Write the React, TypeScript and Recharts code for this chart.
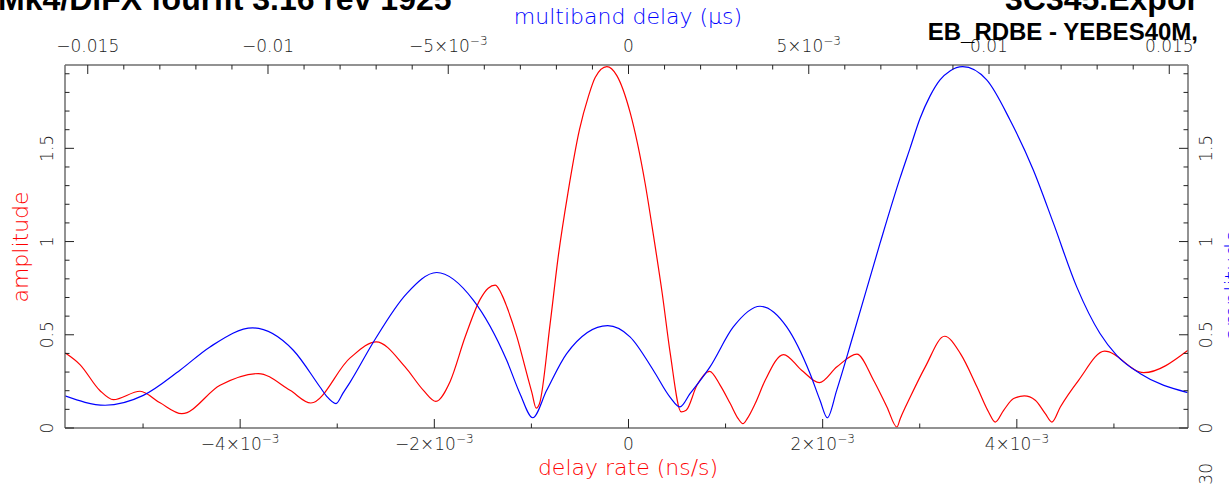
import React from 'react';
import { ComposedChart, Line, XAxis, YAxis } from 'recharts';

// red: amplitude vs delay rate (ns/s), bottom/left axes
const rateX = [
  -0.005804, -0.005650, -0.005443, -0.005306, -0.005031, -0.004825, -0.004601, -0.004207,
  -0.003812, -0.003486, -0.003272, -0.002867, -0.002599, -0.002301, -0.002112, -0.001984,
  -0.001837, -0.001682, -0.001528, -0.001445, -0.001373, -0.001300, -0.001253, -0.00115,
  -0.001047, -0.000995, -0.000951, -0.000917, -0.000807, -0.000721, -0.000624, -0.000505,
  -0.000412, -0.000343, -0.000223, -0.00012, 0.000018, 0.000172, 0.000258, 0.000348,
  0.00043, 0.000543, 0.000594, 0.000705, 0.000835, 0.000945, 0.001048, 0.00113,
  0.001179, 0.001223, 0.001305, 0.001408, 0.001597, 0.001783, 0.001965, 0.002147,
  0.002353, 0.002524, 0.002662, 0.002765, 0.002799, 0.002902, 0.003057, 0.003256,
  0.003419, 0.00359, 0.003709, 0.003778, 0.003864, 0.003967, 0.004077, 0.00419,
  0.004293, 0.004362, 0.004448, 0.004636, 0.004904, 0.005306, 0.005763,
];
const rateAmp = [
  0.403, 0.34, 0.2, 0.152, 0.197, 0.135, 0.077, 0.229,
  0.292, 0.202, 0.134, 0.376, 0.462, 0.328, 0.202, 0.143,
  0.25, 0.489, 0.69, 0.75, 0.766, 0.71, 0.65, 0.49,
  0.29, 0.19, 0.107, 0.13, 0.56, 0.93, 1.26, 1.6,
  1.78, 1.88, 1.938, 1.89, 1.69, 1.31, 1.03, 0.72,
  0.4, 0.086, 0.095, 0.229, 0.304, 0.229, 0.131, 0.05,
  0.023, 0.05, 0.131, 0.256, 0.394, 0.31, 0.243, 0.328,
  0.396, 0.256, 0.113, 0.005, 0.05, 0.166, 0.328, 0.492,
  0.399, 0.22, 0.086, 0.032, 0.095, 0.158, 0.172, 0.149,
  0.077, 0.032, 0.113, 0.256, 0.412, 0.297, 0.417,
];

// blue: amplitude vs multiband delay (us), top/right axes
const mbdX = [
  -0.015631, -0.014521, -0.013459, -0.012441, -0.011609, -0.010424, -0.009298, -0.008558,
  -0.008372, -0.008114, -0.007911, -0.007725, -0.007079, -0.006153, -0.00532, -0.004305,
  -0.003379, -0.00301, -0.002657, -0.002269, -0.001715, -0.000577, 0.000042, 0.000688,
  0.001151, 0.001428, 0.001706, 0.002261, 0.002907, 0.003648, 0.004388, 0.005035,
  0.005312, 0.005515, 0.005775, 0.006236, 0.006976, 0.007531, 0.007809, 0.008086,
  0.008363, 0.008641, 0.008918, 0.00927, 0.009936, 0.010583, 0.011229, 0.011784,
  0.012433, 0.013079, 0.013542, 0.014188, 0.015512,
];
const mbdAmp = [
  0.172, 0.122, 0.175, 0.31, 0.435, 0.537, 0.417, 0.22,
  0.17, 0.131, 0.19, 0.245, 0.46, 0.721, 0.834, 0.686,
  0.363, 0.184, 0.055, 0.202, 0.399, 0.549, 0.489, 0.31,
  0.166, 0.113, 0.184, 0.328, 0.542, 0.653, 0.542, 0.292,
  0.149, 0.055, 0.202, 0.5, 0.99, 1.34, 1.5, 1.66,
  1.78, 1.867, 1.915, 1.938, 1.867, 1.652, 1.384, 1.1,
  0.757, 0.507, 0.39, 0.292, 0.19,
];

const rateTicks = [-0.005, -0.004, -0.003, -0.002, -0.001, 0, 0.001, 0.002, 0.003, 0.004, 0.005];
const rateLabels = [
  { v: -0.004, base: '\u22124\u00d710', exp: '\u22123' },
  { v: -0.002, base: '\u22122\u00d710', exp: '\u22123' },
  { v: 0, base: '0', exp: '' },
  { v: 0.002, base: '2\u00d710', exp: '\u22123' },
  { v: 0.004, base: '4\u00d710', exp: '\u22123' },
];
const mbdTicks = [
  -0.015, -0.014, -0.013, -0.012, -0.011, -0.01, -0.009, -0.008, -0.007, -0.006, -0.005,
  -0.004, -0.003, -0.002, -0.001, 0, 0.001, 0.002, 0.003, 0.004, 0.005, 0.006, 0.007,
  0.008, 0.009, 0.01, 0.011, 0.012, 0.013, 0.014, 0.015,
];
const mbdLabels = [
  { v: -0.015, base: '\u22120.015', exp: '' },
  { v: -0.01, base: '\u22120.01', exp: '' },
  { v: -0.005, base: '\u22125\u00d710', exp: '\u22123' },
  { v: 0, base: '0', exp: '' },
  { v: 0.005, base: '5\u00d710', exp: '\u22123' },
  { v: 0.01, base: '0.01', exp: '' },
  { v: 0.015, base: '0.015', exp: '' },
];
const ampTicks = [0, 0.1, 0.2, 0.3, 0.4, 0.5, 0.6, 0.7, 0.8, 0.9, 1, 1.1, 1.2, 1.3, 1.4, 1.5, 1.6, 1.7, 1.8, 1.9];
const ampLabels = [
  { v: 0, base: '0' },
  { v: 0.5, base: '0.5' },
  { v: 1, base: '1' },
  { v: 1.5, base: '1.5' },
];

const redData = rateX.map((x, i) => ({ x, amp: rateAmp[i] }));
const blueData = mbdX.map((x, i) => ({ x, amp: mbdAmp[i] }));

const FONT = '"DejaVu Sans", sans-serif';
const TICK_COLOR = '#222';
const MAJOR = 9;
const MINOR = 4.5;

const findLabel = (list: any[], v: number) => list.find((l) => Math.abs(l.v - v) < 1e-9);

function HTick(props: any) {
  const { x, y, payload, labels, top } = props;
  const lab = findLabel(labels, payload.value);
  const len = lab ? MAJOR : MINOR;
  const dir = top ? 1 : -1;
  return (
    <g>
      <line x1={x} x2={x} y1={y} y2={y + dir * len} stroke={TICK_COLOR} strokeWidth={1} />
      {lab && (
        <text
          x={x}
          y={top ? y - 13 : y + 22}
          textAnchor="middle"
          fontFamily={FONT}
          fontWeight={200}
          fontSize={17}
          fill={TICK_COLOR}
        >
          {lab.base}
          {lab.exp && (
            <tspan dy={-7} fontSize={12}>
              {lab.exp}
            </tspan>
          )}
        </text>
      )}
    </g>
  );
}

function VTick(props: any) {
  const { x, y, payload, right } = props;
  const lab = findLabel(ampLabels, payload.value);
  const len = lab ? MAJOR : MINOR;
  const dir = right ? -1 : 1;
  const tx = right ? x + 24 : x - 12;
  return (
    <g>
      <line x1={x} x2={x + dir * len} y1={y} y2={y} stroke={TICK_COLOR} strokeWidth={1} />
      {lab && (
        <text
          transform={`translate(${tx},${y}) rotate(-90)`}
          textAnchor="middle"
          fontFamily={FONT}
          fontWeight={200}
          fontSize={17}
          fill={TICK_COLOR}
        >
          {lab.base}
        </text>
      )}
    </g>
  );
}

export default function App() {
  return (
    <div style={{ position: 'absolute', left: 0, top: 0, width: 1229, height: 487, background: '#fff', overflow: 'hidden' }}>
      <ComposedChart width={1229} height={487} margin={{ top: 0, right: 0, bottom: 0, left: 0 }}>
        <XAxis
          xAxisId="rate"
          orientation="bottom"
          dataKey="x"
          type="number"
          domain={[-0.005804, 0.005763]}
          allowDataOverflow
          ticks={rateTicks}
          interval={0}
          height={59}
          tickSize={0}
          tickMargin={0}
          tickLine={false}
          axisLine={{ stroke: '#6e6e6e', strokeWidth: 1.5 }}
          tick={<HTick labels={rateLabels} top={false} />}
        />
        <XAxis
          xAxisId="mbd"
          orientation="top"
          dataKey="x"
          type="number"
          domain={[-0.015631, 0.01552]}
          allowDataOverflow
          ticks={mbdTicks}
          interval={0}
          height={65}
          tickSize={0}
          tickMargin={0}
          tickLine={false}
          axisLine={{ stroke: '#6e6e6e', strokeWidth: 1.5 }}
          tick={<HTick labels={mbdLabels} top />}
        />
        <YAxis
          yAxisId="ampL"
          orientation="left"
          type="number"
          domain={[0, 1.947]}
          allowDataOverflow
          ticks={ampTicks}
          interval={0}
          width={65}
          tickSize={0}
          tickMargin={0}
          tickLine={false}
          axisLine={{ stroke: '#6e6e6e', strokeWidth: 1.5 }}
          tick={<VTick right={false} />}
        />
        <YAxis
          yAxisId="ampR"
          orientation="right"
          type="number"
          domain={[0, 1.947]}
          allowDataOverflow
          ticks={ampTicks}
          interval={0}
          width={41}
          tickSize={0}
          tickMargin={0}
          tickLine={false}
          axisLine={{ stroke: '#6e6e6e', strokeWidth: 1.5 }}
          tick={<VTick right />}
        />
        <Line
          data={redData}
          xAxisId="rate"
          yAxisId="ampL"
          dataKey="amp"
          type="monotone"
          stroke="#ff0000"
          strokeWidth={1.2}
          dot={false}
          activeDot={false}
          isAnimationActive={false}
        />
        <Line
          data={blueData}
          xAxisId="mbd"
          yAxisId="ampR"
          dataKey="amp"
          type="monotone"
          stroke="#0000ff"
          strokeWidth={1.2}
          dot={false}
          activeDot={false}
          isAnimationActive={false}
        />
      </ComposedChart>
      <svg width={1229} height={487} style={{ position: 'absolute', left: 0, top: 0, pointerEvents: 'none' }}>
        <g fontFamily={'"Liberation Sans", Arial, sans-serif'} fontWeight="bold" fill="#000">
          <text x={-2} y={10} fontSize={32}>Mk4/DiFX fourfit 3.16 rev 1925</text>
          <text x={1005} y={10} fontSize={32}>3C345.Expor</text>
          <text x={1198} y={40} fontSize={24} textAnchor="end">EB_RDBE - YEBES40M,</text>
        </g>
        <g fontFamily={FONT} fontWeight={200} fontSize={22}>
          <text x={628} y={24} textAnchor="middle" fill="#0000ff">multiband delay (&#956;s)</text>
          <text x={628} y={475} textAnchor="middle" fill="#ff0000">delay rate (ns/s)</text>
          <text transform="translate(28,247) rotate(-90)" textAnchor="middle" fill="#ff0000">amplitude</text>
          <text transform="translate(1240,285) rotate(-90)" textAnchor="middle" fill="#0000ff">amplitude</text>
          <text transform="translate(1212,463) rotate(-90)" textAnchor="end" fontSize={17} fill={TICK_COLOR}>30</text>
        </g>
      </svg>
    </div>
  );
}
